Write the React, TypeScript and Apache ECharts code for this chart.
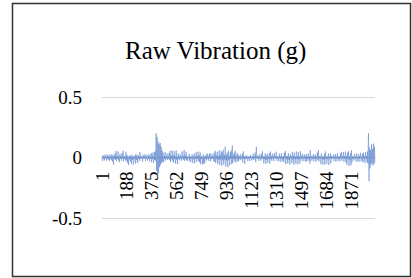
import React, { useEffect, useRef } from "react";
import * as echarts from "echarts";

// Number of samples on the category axis
const SAMPLE_COUNT = 2048;
const categories: string[] = Array.from({ length: SAMPLE_COUNT }, (_, i) => String(i + 1));

// Peak values (milli-g) read per pixel column of the plot, positive excursion
const upPeaks: number[] = [
  8, 20, 10, 24, 8, 26, 12, 22, 9, 28, 10, 24, 12, 32, 55, 14, 50, 10, 30, 12, 36, 58, 14, 10, 48, 22, 9, 8, 18, 10,
  24, 8, 7, 20, 28, 10, 22, 12, 45, 10, 8, 24, 10, 28, 9, 22, 12, 26, 10, 34, 40, 14, 45, 50,
  200, 170, 130, 110, 120, 90, 60,
  40, 14, 45, 12, 35, 10, 38, 55, 14, 60, 20, 52, 12, 58, 10, 34, 9, 28, 12, 50, 14, 62, 20, 48, 10, 8, 30, 10, 7, 26,
  9, 32, 12, 45, 14, 50, 20, 42, 9, 8, 26, 12, 10, 24, 32, 10, 28, 36, 10, 30, 12, 40, 55, 16, 48, 14, 60, 20, 52, 42,
  65, 20, 90, 24, 40, 55, 14, 45, 60, 100, 20, 40, 55, 12, 38,
  22, 8, 28, 9, 30, 50, 12, 7, 20, 10, 9, 6, 22, 12, 8, 30, 10, 40, 90, 14, 9, 26, 8, 30, 52, 12, 9, 34, 10, 30,
  8, 36, 50, 12, 32, 10, 38, 12, 48, 10, 9, 32, 10, 36, 12, 9, 40, 55, 14, 10, 36, 9, 28, 12, 48, 14, 40, 10, 50, 12,
  45, 10, 52, 12, 30, 8, 26, 12,
  28, 9, 34, 10, 60, 12, 8, 28, 10, 24, 9, 40, 60, 12, 8, 34, 10, 7, 30, 50, 10, 8, 32, 10, 36, 12, 7, 26, 10, 30,
  9, 34, 10, 8, 32, 48, 12, 45, 10, 50, 14, 40, 52, 10, 36, 60, 12, 8, 28, 10, 34, 8, 30, 10, 38, 9, 32, 40, 10, 45,
  14, 50, 200, 80, 60, 110, 70, 115, 90,
];

// Peak values (milli-g) read per pixel column of the plot, negative excursion
const downPeaks: number[] = [
  -30, -10, -24, -8, -26, -9, -20, -28, -10, -22, -34, -60, -12, -18, -30, -9, -24, -40, -10, -26,
  -9, -32, -12, -24, -28, -45, -62, -14, -35, -55, -20, -58, -14, -50, -22, -45, -10, -28, -12, -8,
  -36, -10, -9, -30, -8, -26, -10, -32, -12, -40, -14, -45, -20, -28,
  -110, -150, -130, -80, -60, -45, -35,
  -40, -12, -25, -10, -20, -9, -22, -38, -12, -26, -45, -14, -50, -20, -55, -12, -24, -8, -26, -10,
  -20, -28, -12, -22, -30, -8, -26, -40, -10, -45, -14, -50, -10, -36, -12, -30, -40, -55, -14, -60,
  -45, -52, -12, -24, -9, -28, -10, -32, -12, -8, -30, -36, -45, -14, -55, -20, -62, -16, -70, -22,
  -58, -18, -75, -24, -80, -20, -65, -12, -55, -45, -14, -30, -42, -10, -34,
  -28, -10, -22, -9, -40, -12, -52, -14, -8, -30, -9, -28, -7, -24, -10, -20, -9, -38, -12, -8,
  -28, -7, -26, -12, -10, -48, -14, -52, -20, -45, -12, -50, -14, -26, -9, -30, -10, -8, -28, -9,
  -32, -10, -36, -12, -30, -40, -10, -55, -16, -50, -20, -58, -12, -48, -18, -60, -14, -52, -12, -56,
  -18, -50, -12, -28, -8, -30, -10, -36,
  -30, -12, -26, -50, -10, -28, -8, -30, -10, -36, -12, -20, -32, -9, -55, -14, -60, -20, -58, -12,
  -52, -14, -62, -10, -48, -12, -8, -30, -9, -34, -8, -28, -10, -32, -12, -26, -9, -36, -12, -40,
  -60, -16, -70, -20, -65, -40, -12, -24, -9, -32, -10, -38, -12, -34, -8, -30, -40, -12, -45, -10,
  -38, -50, -195, -90, -60, -45, -65, -55, -40,
];

const TITLE = "Raw Vibration (g)";
const Y_MIN = -0.5;
const Y_MAX = 0.5;
const Y_STEP = 0.5;
const LABEL_EVERY = 187;

export default function App() {
  const ref = useRef<HTMLDivElement>(null);

  useEffect(() => {
    if (!ref.current) return;
    const chart = echarts.init(ref.current, null, { renderer: "svg" });

    const cols = Math.min(upPeaks.length, downPeaks.length);
    const total = cols * 2;
    const seriesData: [number, number][] = [];
    for (let c = 0; c < cols; c++) {
      const i1 = Math.round((2 * c * (SAMPLE_COUNT - 1)) / (total - 1));
      const i2 = Math.round(((2 * c + 1) * (SAMPLE_COUNT - 1)) / (total - 1));
      seriesData.push([i1, upPeaks[c] / 1000]);
      seriesData.push([i2, downPeaks[c] / 1000]);
    }

    const font = "'Liberation Serif', 'Times New Roman', serif";
    const gridTop = 97;
    const gridBottom = 60;
    const plotH = 278 - gridTop - gridBottom;
    const zeroOffset = (plotH * (0 - Y_MIN)) / (Y_MAX - Y_MIN);

    chart.setOption({
      animation: false,
      backgroundColor: "#ffffff",
      title: {
        text: TITLE,
        left: 125,
        top: 38,
        padding: 0,
        textStyle: { fontFamily: font, fontSize: 25, fontWeight: "normal", color: "#000000" },
      },
      grid: { left: 102, right: 37, top: gridTop, bottom: gridBottom, containLabel: false },
      xAxis: {
        type: "category",
        data: categories,
        boundaryGap: false,
        position: "bottom",
        offset: -zeroOffset,
        axisLine: { show: true, onZero: false, lineStyle: { color: "#d9d9d9", width: 1 } },
        axisTick: { show: false },
        splitLine: { show: false },
        axisLabel: {
          interval: LABEL_EVERY - 1,
          rotate: 90,
          margin: 14,
          fontFamily: font,
          fontSize: 19,
          color: "#000000",
          hideOverlap: false,
        },
      },
      yAxis: {
        type: "value",
        min: Y_MIN,
        max: Y_MAX,
        interval: Y_STEP,
        axisLine: { show: false },
        axisTick: { show: false },
        splitLine: { show: true, lineStyle: { color: "#d9d9d9", width: 1 } },
        axisLabel: { margin: 20, fontFamily: font, fontSize: 19, color: "#000000" },
      },
      graphic: [
        {
          type: "rect",
          shape: { x: 12.5, y: 3.5, width: 398, height: 273 },
          style: { fill: "none", stroke: "#333333", lineWidth: 1.5 },
          silent: true,
          z: 100,
        },
      ],
      series: [
        {
          type: "line",
          data: seriesData,
          showSymbol: false,
          symbol: "none",
          lineStyle: { color: "#4472C4", width: 0.45 },
          itemStyle: { color: "#4472C4" },
          z: 3,
        },
      ],
    });

    return () => chart.dispose();
  }, []);

  return (
    <div
      ref={ref}
      style={{ position: "fixed", left: 0, top: 0, width: 412, height: 278, background: "#fff" }}
    />
  );
}
